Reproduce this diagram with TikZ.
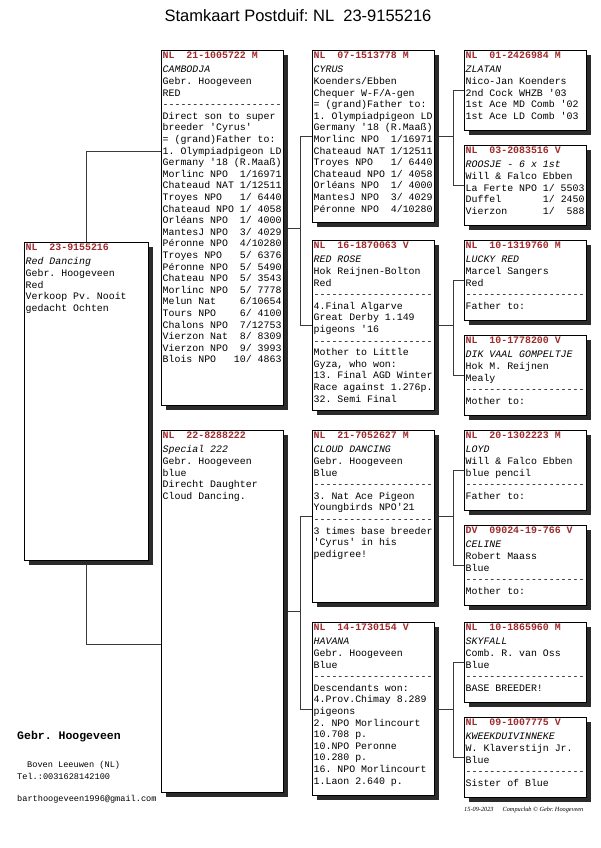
\documentclass[tikz,border=0pt]{standalone}
\usepackage{fontspec}
\setmonofont{Liberation Mono}
\newfontfamily\titlefont{Liberation Sans}
\newfontfamily\stampfont{Liberation Serif}
\usepackage{xcolor}
\usetikzlibrary{shadows, backgrounds}
\definecolor{ringred}{HTML}{9E2A2B}
\definecolor{shadowgray}{HTML}{2B2B2B}
\definecolor{linkgray}{HTML}{3A3A3A}
\newcommand{\cardsize}{\fontsize{9.9}{11.6}\selectfont}
\newcommand{\ring}[1]{\textcolor{ringred}{\bfseries #1}\\[3pt]}
\newcommand{\sepline}{--------------------}
\tikzset{
    card/.style={
        rectangle,
        draw=black,
        line width=0.8pt,
        fill=white,
        anchor=north west,
        inner sep=0pt,
        minimum width=122pt,
        drop shadow={shadow xshift=5pt, shadow yshift=-5pt, fill=shadowgray, opacity=1}
    },
    cardtext/.style={
        anchor=north west,
        align=left,
        inner xsep=1.5pt,
        inner ysep=1.5pt,
        font=\cardsize\ttfamily
    },
    footnote/.style={
        anchor=west,
        inner sep=0pt,
        font=\ttfamily\fontsize{8.6}{10}\selectfont
    },
    link/.style={
        draw=linkgray,
        line width=0.8pt
    }
}
\frenchspacing

\begin{document}
\begin{tikzpicture}[x=1pt, y=-1pt]
    \useasboundingbox (0,0) rectangle (600,848);

    \node[font=\titlefont\fontsize{16.5}{18}\selectfont] (title) at (298,16) {Stamkaart Postduif: NL\ \ 23-9155216};

    % generation 1
    \node[card, minimum width=124pt, minimum height=318pt] (reddancing) at (24,242) {};
    \node[cardtext] (reddancing-t) at (reddancing.north west) {\ring{NL~~23-9155216}\textit{Red Dancing}\\Gebr. Hoogeveen\\Red\\Verkoop Pv. Nooit\\gedacht Ochten};

    % generation 2
    \node[card, minimum height=355pt] (cambodja) at (161,50) {};
    \node[cardtext] (cambodja-t) at (cambodja.north west) {\ring{NL~~21-1005722 M}\textit{CAMBODJA}\\Gebr. Hoogeveen\\RED\\\sepline\\Direct son to super\\breeder 'Cyrus'\\= (grand)Father to:\\1. Olympiadpigeon LD\\Germany '18 (R.Maaß)\\Morlinc NPO~~1/16971\\Chateaud NAT 1/12511\\Troyes NPO~~~1/ 6440\\Chateaud NPO 1/ 4058\\Orléans NPO~~1/ 4000\\MantesJ NPO~~3/ 4029\\Péronne NPO~~4/10280\\Troyes NPO~~~5/ 6376\\Péronne NPO~~5/ 5490\\Chateau NPO~~5/ 3543\\Morlinc NPO~~5/ 7778\\Melun Nat~~~~6/10654\\Tours NPO~~~~6/ 4100\\Chalons NPO~~7/12753\\Vierzon Nat~~8/ 8309\\Vierzon NPO~~9/ 3993\\Blois NPO~~~10/ 4863};

    \node[card, minimum height=362pt] (special) at (161,430) {};
    \node[cardtext] (special-t) at (special.north west) {\ring{NL~~22-8288222}\textit{Special 222}\\Gebr. Hoogeveen\\blue\\Direcht Daughter\\Cloud Dancing.};

    % generation 3
    \node[card, minimum height=172pt] (cyrus) at (312,50) {};
    \node[cardtext] (cyrus-t) at (cyrus.north west) {\ring{NL~~07-1513778 M}\textit{CYRUS}\\Koenders/Ebben\\Chequer W-F/A-gen\\= (grand)Father to:\\1. Olympiadpigeon LD\\Germany '18 (R.Maaß)\\Morlinc NPO~~1/16971\\Chateaud NAT 1/12511\\Troyes NPO~~~1/ 6440\\Chateaud NPO 1/ 4058\\Orléans NPO~~1/ 4000\\MantesJ NPO~~3/ 4029\\Péronne NPO~~4/10280};

    \node[card, minimum height=170pt] (redrose) at (312,240) {};
    \node[cardtext] (redrose-t) at (redrose.north west) {\ring{NL~~16-1870063 V}\textit{RED ROSE}\\Hok Reijnen-Bolton\\Red\\\sepline\\4.Final Algarve\\Great Derby 1.149\\pigeons '16\\\sepline\\Mother to Little\\Gyza, who won:\\13. Final AGD Winter\\Race against 1.276p.\\32. Semi Final};

    \node[card, minimum height=172pt] (cloud) at (312,430) {};
    \node[cardtext] (cloud-t) at (cloud.north west) {\ring{NL~~21-7052627 M}\textit{CLOUD DANCING}\\Gebr. Hoogeveen\\Blue\\\sepline\\3. Nat Ace Pigeon\\Youngbirds NPO'21\\\sepline\\3 times base breeder\\'Cyrus' in his\\pedigree!};

    \node[card, minimum height=173pt] (havana) at (312,622) {};
    \node[cardtext] (havana-t) at (havana.north west) {\ring{NL~~14-1730154 V}\textit{HAVANA}\\Gebr. Hoogeveen\\Blue\\\sepline\\Descendants won:\\4.Prov.Chimay 8.289\\pigeons\\2. NPO Morlincourt\\10.708 p.\\10.NPO Peronne\\10.280 p.\\16. NPO Morlincourt\\1.Laon 2.640 p.};

    % generation 4
    \node[card, minimum height=80pt] (zlatan) at (464,50) {};
    \node[cardtext] (zlatan-t) at (zlatan.north west) {\ring{NL~~01-2426984 M}\textit{ZLATAN}\\Nico-Jan Koenders\\2nd Cock WHZB '03\\1st Ace MD Comb '02\\1st Ace LD Comb '03};

    \node[card, minimum height=80pt] (roosje) at (464,145) {};
    \node[cardtext] (roosje-t) at (roosje.north west) {\ring{NL~~03-2083516 V}\textit{ROOSJE - 6 x 1st}\\Will \& Falco Ebben\\La Ferte NPO 1/ 5503\\Duffel~~~~~~~1/ 2450\\Vierzon~~~~~~1/~~588};

    \node[card, minimum height=80pt] (luckyred) at (464,240) {};
    \node[cardtext] (luckyred-t) at (luckyred.north west) {\ring{NL~~10-1319760 M}\textit{LUCKY RED}\\Marcel Sangers\\Red\\\sepline\\Father to:};

    \node[card, minimum height=80pt] (dikvaal) at (464,335) {};
    \node[cardtext] (dikvaal-t) at (dikvaal.north west) {\ring{NL~~10-1778200 V}\textit{DIK VAAL GOMPELTJE}\\Hok M. Reijnen\\Mealy\\\sepline\\Mother to:};

    \node[card, minimum height=80pt] (loyd) at (464,430) {};
    \node[cardtext] (loyd-t) at (loyd.north west) {\ring{NL~~20-1302223 M}\textit{LOYD}\\Will \& Falco Ebben\\blue pencil\\\sepline\\Father to:};

    \node[card, minimum height=80pt] (celine) at (464,525) {};
    \node[cardtext] (celine-t) at (celine.north west) {\ring{DV~~09024-19-766 V}\textit{CELINE}\\Robert Maass\\Blue\\\sepline\\Mother to:};

    \node[card, minimum height=80pt] (skyfall) at (464,622) {};
    \node[cardtext] (skyfall-t) at (skyfall.north west) {\ring{NL~~10-1865960 M}\textit{SKYFALL}\\Comb. R. van Oss\\Blue\\\sepline\\BASE BREEDER!};

    \node[card, minimum height=80pt] (kweek) at (464,717) {};
    \node[cardtext] (kweek-t) at (kweek.north west) {\ring{NL~~09-1007775 V}\textit{KWEEKDUIVINNEKE}\\W. Klaverstijn Jr.\\Blue\\\sepline\\Sister of Blue};

    % footer
    \node[footnote, font=\ttfamily\bfseries\fontsize{11.5}{13}\selectfont] (breeder) at (17,737) {Gebr. Hoogeveen};
    \node[footnote] (town) at (27,765) {Boven Leeuwen (NL)};
    \node[footnote] (phone) at (17,776) {Tel.:0031628142100};
    \node[footnote] (mail) at (17,799) {barthoogeveen1996@gmail.com};
    \node[footnote, font=\stampfont\itshape\fontsize{6.3}{7}\selectfont] (stamp) at (464,810) {15-09-2023\hspace{9pt}Compuclub \textcopyright{} Gebr. Hoogeveen};

    % connectors
    \begin{scope}[on background layer]
        \draw[link] (reddancing.north) |- ([yshift=77pt]cambodja.west);
        \draw[link] (reddancing.south) |- ([yshift=-33pt]special.west);

        \draw[link] (cyrus.west) -- ++(-12,0) coordinate (fork-a) |- (redrose.west);
        \draw[link] (cambodja.east) -- (cambodja.east -| fork-a);
        \draw[link] (cloud.west) -- ++(-12,0) coordinate (fork-b) |- (havana.west);
        \draw[link] (special.east) -- (special.east -| fork-b);

        \draw[link] (zlatan.west) -- ++(-11,0) coordinate (fork-c) |- (roosje.west);
        \draw[link] (cyrus.east) -- (cyrus.east -| fork-c);
        \draw[link] (luckyred.west) -- ++(-11,0) coordinate (fork-d) |- (dikvaal.west);
        \draw[link] (redrose.east) -- (redrose.east -| fork-d);
        \draw[link] (loyd.west) -- ++(-11,0) coordinate (fork-e) |- (celine.west);
        \draw[link] (cloud.east) -- (cloud.east -| fork-e);
        \draw[link] (skyfall.west) -- ++(-11,0) coordinate (fork-f) |- (kweek.west);
        \draw[link] (havana.east) -- (havana.east -| fork-f);
    \end{scope}
\end{tikzpicture}
\end{document}
